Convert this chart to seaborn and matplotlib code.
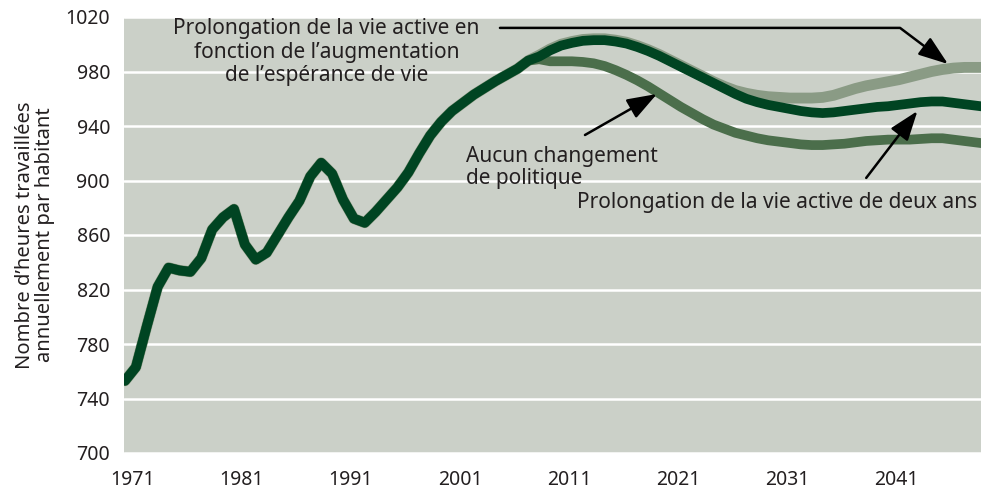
"""Heures travaillees par habitant : historique et trois scenarios de politique."""

import matplotlib.pyplot as plt
import seaborn as sns
from matplotlib.transforms import ScaledTranslation

# Donnees
annees_hist = list(range(1971, 2009))
heures_hist = [753, 763, 793, 822, 836, 834, 833, 843, 864, 873,
               879, 853, 842, 847, 860, 873, 885, 903, 913, 905,
               886, 872, 869, 877, 886, 895, 906, 920, 933, 943,
               951, 957, 963, 968, 973, 977.5, 982, 988]

annees_proj = list(range(2009, 2051))
heures_deux_ans = [991, 995.5, 999, 1001, 1002.5, 1003, 1003, 1002, 1000.5, 998,
                   995, 991.5, 987.5, 983.5, 979.5, 975.5, 971.5, 967.5, 963.5, 960,
                   957.5, 955.5, 954, 952.5, 951, 950, 949.5, 950, 951, 952,
                   953, 954, 954.5, 955.5, 956.5, 957.5, 958, 958, 957, 956,
                   955, 954]
heures_esperance = [992, 996.5, 1000, 1002, 1003.5, 1004, 1004, 1003, 1001.5, 999,
                    996, 992.5, 988.5, 984.5, 980.5, 976.5, 972.5, 969, 966, 964,
                    962.5, 961.5, 961, 960.5, 960.5, 960.5, 961, 962.5, 965, 967.5,
                    969.5, 971, 972.5, 974, 976, 978, 980, 981.5, 982.5, 983,
                    983, 983]
heures_aucun = [989, 987.5, 987.5, 987.5, 987, 986, 984, 981, 977.5, 973.5,
                969, 964, 959, 954, 949.5, 945, 941, 938, 935, 933,
                931, 929.5, 928.5, 927.5, 926.5, 926, 926, 926.5, 927, 928,
                929, 929.5, 930, 930, 930, 930.5, 931, 931, 930, 929,
                928, 927]

ticks_x = [1971, 1981, 1991, 2001, 2011, 2021, 2031, 2041]
ticks_y = list(range(700, 1021, 40))

COULEUR_FONCE = "#004422"
COULEUR_MOYEN = "#4b6e4b"
COULEUR_CLAIR = "#8a9b85"
COULEUR_TEXTE = "#231f20"

sns.set_style("darkgrid", {"axes.facecolor": "#cbd0c8", "grid.color": "white"})
plt.rcParams["font.family"] = ["Noto Sans", "DejaVu Sans"]

fig = plt.figure(figsize=(9.81, 4.91), dpi=100)
ax = fig.add_axes([124 / 981, 38 / 491, 857 / 981, 436 / 491])

annees = annees_hist + annees_proj
style = dict(solid_capstyle="round", solid_joinstyle="round", legend=False)
sns.lineplot(x=annees, y=heures_hist + heures_esperance, color=COULEUR_CLAIR,
             linewidth=7.8, ax=ax, zorder=2, **style)
sns.lineplot(x=annees, y=heures_hist + heures_aucun, color=COULEUR_MOYEN,
             linewidth=7, ax=ax, zorder=3, **style)
sns.lineplot(x=annees, y=heures_hist + heures_deux_ans, color=COULEUR_FONCE,
             linewidth=7, ax=ax, zorder=4, **style)

ax.set_xlim(1970.91, 2049.53)
ax.set_ylim(700, 1020)
ax.set_xticks(ticks_x)
ax.set_yticks(ticks_y)
ax.grid(axis="x", visible=False)
ax.grid(axis="y", color="white", linewidth=1.8)
for spine in ax.spines.values():
    spine.set_visible(False)

ax.tick_params(axis="x", length=5, width=0.8, color="#888888", pad=7.5,
               labelsize=14, labelcolor=COULEUR_TEXTE)
ax.tick_params(axis="y", length=0, pad=10, labelsize=14, labelcolor=COULEUR_TEXTE)
# les annees sont legerement decalees vers la droite des graduations
decalage = ScaledTranslation(8 / 100, 0, fig.dpi_scale_trans)
for etiquette in ax.get_xticklabels():
    etiquette.set_transform(etiquette.get_transform() + decalage)

ax.set_xlabel("")
ax.set_ylabel("Nombre d\u2019heures travaillées\nannuellement par habitant",
              fontsize=14.5, color=COULEUR_TEXTE, linespacing=1.05)
ax.yaxis.set_label_coords(-0.08, 0.5)

# Annotations et fleches
fleche = dict(arrowstyle="-|>,head_length=0.7,head_width=0.25", color="black",
              linewidth=1.8, mutation_scale=26, shrinkA=0, shrinkB=0)
texte = dict(fontsize=15, color=COULEUR_TEXTE, zorder=6)

ax.text(1989.5, 994.3,
        "Prolongation de la vie active en\nfonction de l\u2019augmentation\nde l\u2019espérance de vie",
        ha="center", va="center", multialignment="center", linespacing=1.15, **texte)
ax.annotate("", xy=(2046.5, 985.5), xytext=(2005.4, 1012),
            arrowprops=dict(connectionstyle="angle,angleA=0,angleB=143,rad=0", **fleche),
            zorder=6)

ax.text(2002.3, 909.6, "Aucun changement\nde politique", ha="left", va="center",
        linespacing=1.1, **texte)
ax.annotate("", xy=(2019.8, 963.5), xytext=(2013.2, 933.4), arrowprops=fleche, zorder=6)

ax.text(2012.5, 884.2, "Prolongation de la vie active de deux ans", ha="left",
        va="center", **texte)
ax.annotate("", xy=(2043.7, 951.0), xytext=(2039.0, 901.9), arrowprops=fleche, zorder=6)

fig.savefig("out.png", dpi=100)
